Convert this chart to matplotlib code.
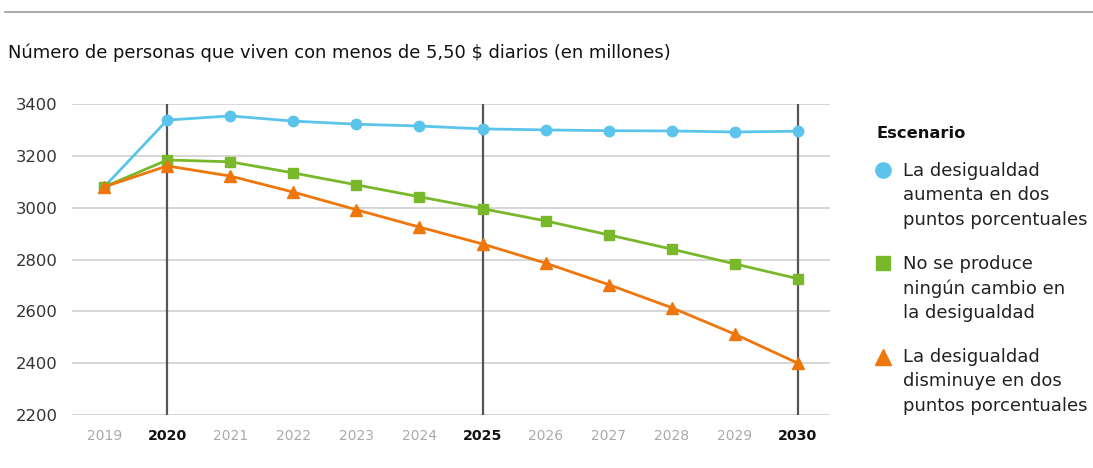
import matplotlib
matplotlib.use("Agg")
import matplotlib.pyplot as plt
from matplotlib.lines import Line2D

years = [2019, 2020, 2021, 2022, 2023, 2024, 2025, 2026, 2027, 2028, 2029, 2030]
aumenta = [3080, 3338, 3354, 3334, 3322, 3315, 3304, 3300, 3297, 3296, 3292, 3295]
sin_cambio = [3080, 3184, 3177, 3134, 3088, 3042, 2996, 2949, 2895, 2840, 2783, 2726]
disminuye = [3080, 3161, 3122, 3060, 2992, 2925, 2860, 2786, 2703, 2614, 2512, 2400]
bold_years = [2020, 2025, 2030]
yticks = [2200, 2400, 2600, 2800, 3000, 3200, 3400]
title = "Número de personas que viven con menos de 5,50 $ diarios (en millones)"
legend_title = "Escenario"
labels = [["La desigualdad", "aumenta en dos", "puntos porcentuales"],
          ["No se produce", "ningún cambio en", "la desigualdad"],
          ["La desigualdad", "disminuye en dos", "puntos porcentuales"]]

BLUE = "#5BC4EB"
GREEN = "#78B82A"
ORANGE = "#EE760B"

plt.rcParams['font.family'] = ['DejaVu Sans']

W, H = 1093, 468
fig = plt.figure(figsize=(W / 100, H / 100), dpi=100)
ax = fig.add_axes([72 / W, 53 / H, (830 - 72) / W, (415 - 104) / H])

for y in yticks:
    ax.axhline(y, color="#cccccc", lw=1.1, zorder=0)
for x in bold_years:
    ax.axvline(x, color="#555555", lw=1.6, zorder=1)

ax.plot(years, aumenta, color=BLUE, lw=2, marker="o", ms=7.5, zorder=3)
ax.plot(years, sin_cambio, color=GREEN, lw=2, marker="s", ms=7.2, zorder=3)
ax.plot(years, disminuye, color=ORANGE, lw=2, marker="^", ms=8, zorder=3)

ax.set_xlim(2018.49, 2030.51)
ax.set_ylim(2200, 3400)
ax.set_xticks(years)
ax.set_xticklabels([str(y) for y in years])
for lbl, y in zip(ax.get_xticklabels(), years):
    if y in bold_years:
        lbl.set_color("#111111")
        lbl.set_fontweight("bold")
        lbl.set_fontsize(10.2)
    else:
        lbl.set_color("#aaaaaa")
        lbl.set_fontsize(10)
ax.set_yticks(yticks)
ax.set_yticklabels([str(y) for y in yticks], fontsize=11.8, color="#333333")
ax.tick_params(length=0)
ax.tick_params(axis='y', pad=10.5)
ax.tick_params(axis='x', pad=10)
for s in ax.spines.values():
    s.set_visible(False)

# top rule
fig.add_artist(Line2D([5 / W, 1.0], [1 - 12 / H, 1 - 12 / H], color="#999999", lw=1.2))
fig.text(8 / W, 1 - 58 / H, title, fontsize=12.9, color="#111111", va="baseline", ha="left")

# legend
fig.text(876 / W, 1 - 138 / H, legend_title, fontsize=11.7, fontweight="bold",
         color="#111111", va="baseline")
colors = [BLUE, GREEN, ORANGE]
markers = ["o", "s", "^"]
msz = [11, 9.4, 11]
marker_y = [170, 263, 357]
baselines = [176, 269, 362]
for lines, c, m, s, my, b in zip(labels, colors, markers, msz, marker_y, baselines):
    fig.add_artist(Line2D([883 / W], [1 - my / H], marker=m, color=c, ms=s, lw=0))
    for i, line in enumerate(lines):
        fig.text(903 / W, 1 - (b + 24.5 * i) / H, line, fontsize=13, color="#222222",
                 va="baseline", ha="left")

fig.savefig("out.png", dpi=100)
